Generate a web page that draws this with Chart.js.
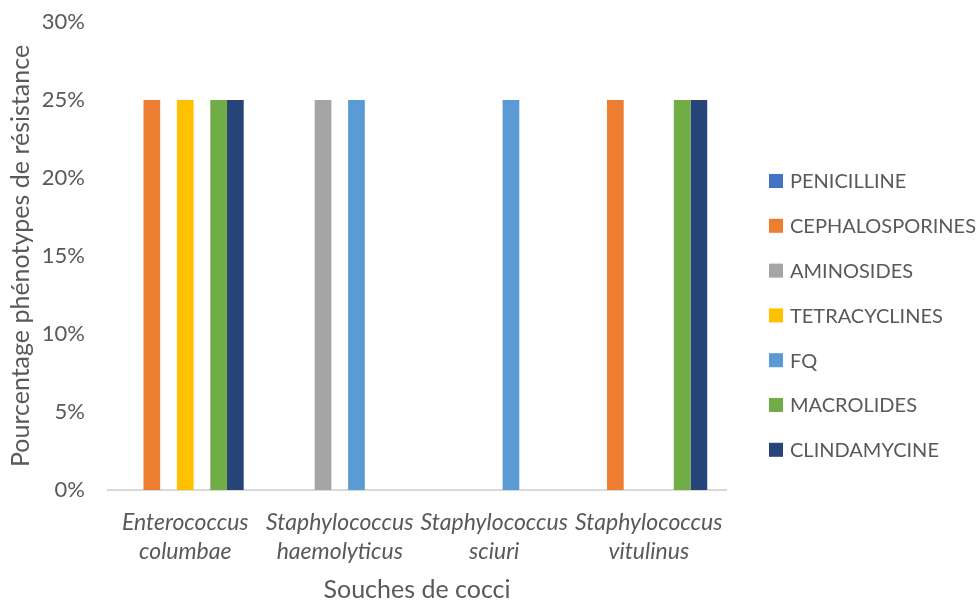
<!DOCTYPE html>
<html lang="fr">
<head>
<meta charset="utf-8">
<title>Phénotypes de résistance par souche de cocci</title>
<script src="https://cdn.jsdelivr.net/npm/chart.js@4/dist/chart.umd.min.js"></script>
<style>
  html, body { margin: 0; padding: 0; background: #ffffff; }
  #wrap { position: relative; width: 980px; height: 602px; }
</style>
</head>
<body>
<div id="wrap"><canvas id="chart" width="980" height="602"></canvas></div>
<script>
// Souches (two-line italic labels under the axis)
const categories = [
  ['Enterococcus', 'columbae'],
  ['Staphylococcus', 'haemolyticus'],
  ['Staphylococcus', 'sciuri'],
  ['Staphylococcus', 'vitulinus']
];

// Antibiotic families, one series each (percent of strains resistant)
const seriesNames = ['PENICILLINE', 'CEPHALOSPORINES', 'AMINOSIDES', 'TETRACYCLINES', 'FQ', 'MACROLIDES', 'CLINDAMYCINE'];
const penicilline     = [0, 0, 0, 0];
const cephalosporines = [25, 0, 0, 25];
const aminosides      = [0, 25, 0, 0];
const tetracyclines   = [25, 0, 0, 0];
const fq              = [0, 25, 25, 0];
const macrolides      = [25, 0, 0, 25];
const clindamycine    = [25, 0, 0, 25];

const yTicks = [0, 5, 10, 15, 20, 25, 30];

const seriesValues = [penicilline, cephalosporines, aminosides, tetracyclines, fq, macrolides, clindamycine];
const seriesColors = ['#4472C4', '#ED7D31', '#A5A5A5', '#FFC000', '#5B9BD5', '#70AD47', '#264478'];

const textColor = '#595959';
const fontFamily = 'Lato, "Open Sans", sans-serif';

// Legend drawn on the right side of the canvas
const sideLegend = {
  id: 'sideLegend',
  afterDraw(chart) {
    const ctx = chart.ctx;
    ctx.save();
    ctx.font = '20px ' + fontFamily;
    ctx.textBaseline = 'middle';
    ctx.textAlign = 'left';
    chart.data.datasets.forEach((ds, i) => {
      const cy = 181 + i * 44.8;
      ctx.fillStyle = ds.backgroundColor;
      ctx.fillRect(769, cy - 7, 14, 14);
      ctx.fillStyle = textColor;
      ctx.fillText(ds.label, 790, cy + 1);
    });
    ctx.restore();
  }
};

const whiteBg = {
  id: 'whiteBg',
  beforeDraw(chart) {
    const ctx = chart.ctx;
    ctx.save();
    ctx.fillStyle = '#ffffff';
    ctx.fillRect(0, 0, chart.width, chart.height);
    ctx.restore();
  }
};

new Chart(document.getElementById('chart'), {
  type: 'bar',
  data: {
    labels: categories,
    datasets: seriesNames.map((name, i) => ({
      label: name,
      data: seriesValues[i],
      backgroundColor: seriesColors[i],
      borderWidth: 0,
      barPercentage: 1,
      categoryPercentage: 0.757
    }))
  },
  options: {
    responsive: false,
    animation: false,
    layout: { padding: { top: 22, right: 254, bottom: 0, left: 0 } },
    plugins: {
      legend: { display: false },
      tooltip: { enabled: false }
    },
    scales: {
      x: {
        grid: { display: false },
        border: { display: true, color: '#D9D9D9', width: 2 },
        ticks: {
          color: textColor,
          padding: 11,
          maxRotation: 0,
          autoSkip: false,
          font: { family: fontFamily, size: 23, style: 'italic', lineHeight: 1.22 }
        },
        title: {
          display: true,
          text: 'Souches de cocci',
          color: textColor,
          padding: 0,
          font: { family: fontFamily, size: 25, lineHeight: 1.0 }
        },
        afterFit(scale) { scale.height = 112; }
      },
      y: {
        min: 0,
        max: 30,
        grid: { display: false },
        border: { display: false },
        afterBuildTicks(scale) { scale.ticks = yTicks.map(v => ({ value: v })); },
        ticks: {
          color: textColor,
          padding: 15,
          font: { family: fontFamily, size: 22, lineHeight: 1.0 },
          callback: v => v + '%'
        },
        title: {
          display: true,
          text: 'Pourcentage phénotypes de résistance',
          color: textColor,
          padding: { top: 6, bottom: 0 },
          font: { family: fontFamily, size: 25, lineHeight: 1.2 }
        },
        afterFit(scale) {
          scale.width = 108;
          scale.paddingTop = 0;
          scale.paddingBottom = 0;
        }
      }
    }
  },
  plugins: [whiteBg, sideLegend]
});
</script>
</body>
</html>
